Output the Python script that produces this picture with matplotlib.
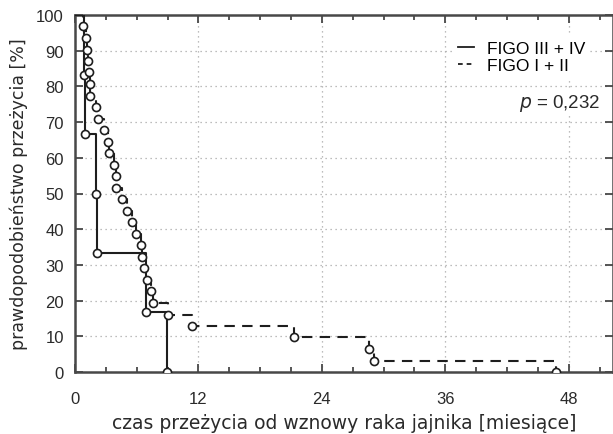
import matplotlib as mpl
import matplotlib.pyplot as plt
from matplotlib.ticker import MultipleLocator

# FIGO III + IV: event times [months] and survival [%] after each event
t_late = [0.9, 0.95, 2.05, 2.15, 6.9, 8.95]
s_late = [83.3, 66.7, 50.0, 33.3, 16.7, 0.0]

# FIGO I + II
t_early = [0.8, 1.05, 1.15, 1.25, 1.35, 1.45, 1.5, 2.0, 2.2, 2.85, 3.2, 3.3,
           3.75, 3.95, 4.0, 4.6, 5.1, 5.5, 5.9, 6.45, 6.5, 6.75, 7.0, 7.35,
           7.6, 9.0, 11.4, 21.25, 28.6, 29.05, 46.8]
s_early = [96.8, 93.5, 90.3, 87.1, 83.9, 80.6, 77.4, 74.2, 71.0, 67.7, 64.5,
           61.3, 58.1, 54.8, 51.6, 48.4, 45.2, 41.9, 38.7, 35.5, 32.3, 29.0,
           25.8, 22.6, 19.4, 16.1, 12.9, 9.7, 6.5, 3.2, 0.0]

labels = ['FIGO III + IV', 'FIGO I + II']
p_text = '0,232'

#Set text font
mpl.rcParams['font.family'] = ['Liberation Sans', 'DejaVu Sans']
mpl.rcParams['font.size'] = 12
mpl.rcParams['mathtext.fontset'] = 'dejavusans'

spine_col = '#484848'
line_col = '#1e1e1e'
text_col = '#2a2a2a'

fig = plt.figure(figsize=(6.13, 4.35), dpi=100)
ax = fig.add_axes([75/613, 1 - 373/435, 1 - 75/613, (373 - 16)/435])

#Draw survival curves
def km_curve(times, surv, style, label):
    ax.step([0] + times, [100] + surv, where='post', color=line_col,
            linewidth=1.5, linestyle=style, label=label, zorder=3)
    ax.plot(times, surv, linestyle='none', marker='o', markersize=5.8,
            markerfacecolor='white', markeredgecolor=line_col,
            markeredgewidth=1.2, zorder=4)

km_curve(t_late, s_late, '-', labels[0])
km_curve(t_early, s_early, (0, (5, 3.5)), labels[1])

#Set axis ranges and ticks
ax.set_xlim(0, 52.3)
ax.set_ylim(0, 100)
ax.xaxis.set_major_locator(MultipleLocator(12))
ax.xaxis.set_minor_locator(MultipleLocator(3))
ax.yaxis.set_major_locator(MultipleLocator(10))
ax.tick_params(which='both', direction='in', top=True, right=True,
               color=spine_col, width=1.3, labelcolor=text_col)
ax.tick_params(which='major', length=6)
ax.tick_params(which='minor', length=3.5)
ax.tick_params(axis='x', which='major', pad=14)
ax.tick_params(axis='y', which='major', pad=8)
for sp in ax.spines.values():
    sp.set_color(spine_col)
    sp.set_linewidth(1.8)

#Set grid
ax.grid(which='major', linestyle=(0, (1, 3)), linewidth=0.9, color='#a8a8a8')
ax.set_axisbelow(True)

#Set axis labels
ax.set_xlabel('czas przeżycia od wznowy raka jajnika [miesiące]', fontsize=13.5,
              family='DejaVu Sans', labelpad=5, color=text_col)
ax.set_ylabel('prawdopodobieństwo przeżycia [%]', fontsize=12.5,
              family='DejaVu Sans', labelpad=6, color=text_col)

#Legend and p-value
leg = ax.legend(loc='upper right', bbox_to_anchor=(0.972, 0.965), frameon=True,
                fancybox=False, handlelength=0.95, handletextpad=0.7,
                labelspacing=0.15, borderpad=0.25, fontsize=12.5)
leg.get_frame().set_facecolor('white')
leg.get_frame().set_edgecolor('none')
leg.get_frame().set_alpha(1)
for h in leg.get_lines():
    h.set_linewidth(1.3)
leg.get_lines()[1].set_linestyle((0, (2.6, 2.2)))
ax.text(0.977, 0.755, r'$\mathit{p}$ = ' + p_text, transform=ax.transAxes,
        ha='right', va='center', fontsize=13.5, color=text_col,
        bbox=dict(facecolor='white', edgecolor='none', pad=1))

plt.savefig('out.png', dpi=100)
